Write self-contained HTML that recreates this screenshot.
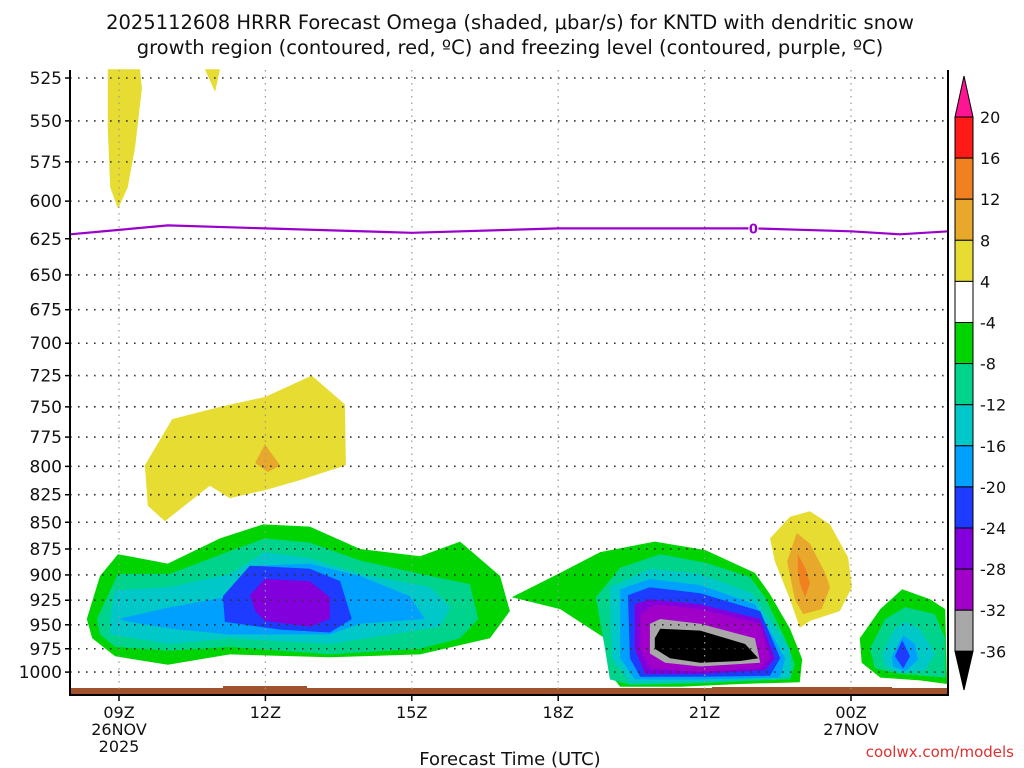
<!DOCTYPE html>
<html><head><meta charset="utf-8"><style>
html,body{margin:0;padding:0;background:#fff;width:1024px;height:768px;overflow:hidden}
svg{font-family:"DejaVu Sans","Liberation Sans",sans-serif}
</style></head><body>
<svg id="chart" width="1024" height="768" viewBox="0 0 1024 768">
<text x="510" y="29" text-anchor="middle" font-size="19.5" fill="#111">2025112608 HRRR Forecast Omega (shaded, μbar/s) for KNTD with dendritic snow</text>
<text x="510" y="54" text-anchor="middle" font-size="19.5" fill="#111">growth region (contoured, red, ºC) and freezing level (contoured, purple, ºC)</text>
<g id="fills"></g>
<g id="grid"></g>
<g id="frz"></g>
<g id="axes"></g>
<g id="cbar"></g>
<text x="510" y="765" text-anchor="middle" font-size="18" fill="#111">Forecast Time (UTC)</text>
<text x="1014" y="757" text-anchor="end" font-size="15" fill="#e03030">coolwx.com/models</text>
</svg>
<script>
const pressureTicks=[525,550,575,600,625,650,675,700,725,750,775,800,825,850,875,900,925,950,975,1000];
const timeTicks=[0,3,6,9,12,15];
const timeLabels=[["09Z","26NOV","2025"],["12Z"],["15Z"],["18Z"],["21Z"],["00Z","27NOV"]];
const cbarLevels=[20,16,12,8,4,-4,-8,-12,-16,-20,-24,-28,-32,-36];
const cbarColors=["#ff1a1a","#f08020","#e8a82c","#e6dc32","#ffffff","#00d400","#00d48c","#00c8c8","#00a0ff","#1e3cff","#8200dc","#a000c8","#a8a8a8"];
const freezeHours=[-1,0,1,3,6,9,12,13,15,16,17];
const freezeP=[622,619,616,618,621,618,618,618,620,622,620];
// contour polygons: [hour since 09Z, hPa]
const yellowTop=[[-0.23,520],[0.43,520],[0.47,531],[0.33,566],[0.18,591],[-0.02,605],[-0.18,591],[-0.23,555]];
const yellowTiny=[[1.76,520],[2.07,520],[1.97,533]];
const yellowMid=[[0.53,799],[1.09,760],[2.07,750],[2.99,742],[3.95,725],[4.63,748],[4.65,799],[3.71,812],[2.99,821],[2.27,828],[1.86,817],[0.94,849],[0.59,835]];
const orangeMid=[[2.79,797],[2.99,781],[3.3,799],[3.05,805]];
const leftGreen=[[-0.66,944],[-0.39,901],[-0.02,880],[1.0,889],[2.07,865],[2.95,852],[3.91,854],[4.94,875],[6.17,882],[6.99,868],[7.81,901],[8.01,936],[7.6,964],[6.17,981],[4.32,984],[2.27,981],[1.0,992],[-0.08,983],[-0.55,964]];
const leftTeal=[[-0.45,944],[-0.02,899],[1.04,899],[2.27,877],[2.99,865],[3.91,869],[4.94,886],[6.17,899],[7.19,909],[7.36,944],[6.99,964],[6.17,975],[4.32,981],[2.27,973],[1.04,977],[-0.08,973],[-0.39,960]];
const leftCyan=[[-0.18,944],[-0.08,915],[1.04,912],[2.27,899],[2.99,878],[3.91,884],[4.94,899],[6.38,912],[6.79,932],[6.58,952],[4.32,970],[2.27,964],[1.04,970],[-0.18,960]];
const leftLBlue=[[-0.02,944],[1.04,932],[2.27,921],[2.79,891],[3.91,889],[4.94,901],[5.96,921],[6.27,944],[4.94,949],[4.32,960],[2.27,960],[1.04,954],[0.12,946]];
const leftBlue=[[2.13,921],[2.68,891],[3.91,894],[4.53,906],[4.77,944],[4.32,958],[3.3,955],[2.17,947]];
const leftPurple=[[2.68,920],[2.99,904],[3.91,906],[4.32,922],[4.32,944],[3.91,952],[2.99,946],[2.79,936]];
const rGreen=[[8.05,922],[9.04,898],[9.86,878],[10.98,868],[12.01,876],[13.03,898],[13.34,919],[13.75,954],[14.0,986],[13.95,1011],[12.73,1013],[11.5,1016],[10.27,1016],[10.06,1002],[9.96,964],[9.04,934]];
const rTeal=[[9.77,922],[10.27,893],[11.09,880],[12.01,888],[12.93,902],[13.24,922],[13.65,964],[13.85,992],[13.75,1008],[11.91,1012],[10.48,1014],[10.06,1008],[9.96,975]];
const rCyan=[[10.06,912],[10.88,894],[11.91,899],[12.97,918],[13.75,975],[13.75,1006],[11.91,1011],[10.47,1012],[10.1,985]];
const rLBlue=[[10.27,914],[10.88,904],[11.91,910],[13.03,929],[13.65,985],[13.55,1006],[11.91,1008],[10.57,1008],[10.27,985]];
const rBlue=[[10.43,920],[10.88,912],[11.91,918],[13.14,936],[13.55,985],[13.34,1004],[11.91,1005],[10.68,1005],[10.47,985]];
const rPurple=[[10.57,929],[10.88,924],[11.91,929],[13.14,944],[13.44,985],[13.24,998],[11.91,1002],[10.78,1002],[10.57,975]];
const rViolet=[[10.68,939],[10.98,929],[11.91,934],[13.14,949],[13.34,985],[13.14,996],[11.91,1000],[10.88,996],[10.68,975]];
const rGray=[[10.88,949],[11.09,944],[11.91,949],[13.03,964],[13.14,990],[11.91,994],[11.19,990],[10.88,980]];
const rBlack=[[10.98,964],[11.09,954],[11.91,956],[12.83,970],[13.1,985],[12.73,988],[11.91,990],[11.29,985],[10.98,975]];
const yRight=[[13.34,865],[13.75,845],[14.16,840],[14.57,852],[14.94,883],[15.02,912],[14.77,936],[14.16,946],[13.95,953],[13.75,924],[13.44,887]];
const gRight=[[13.69,887],[13.89,860],[14.16,870],[14.47,898],[14.57,912],[14.4,934],[14.02,939],[13.85,924]];
const oRight=[[13.91,880],[14.08,895],[14.16,908],[14.06,922],[13.95,908],[13.91,895]];
const sGreen=[[15.18,964],[15.6,934],[16.05,914],[16.62,924],[16.93,934],[16.97,1013],[16.41,1009],[15.6,1006],[15.22,990]];
const sTeal=[[15.39,975],[15.7,944],[16.11,932],[16.72,939],[16.93,964],[16.93,1006],[16.0,1002],[15.49,996]];
const sCyan=[[15.64,980],[15.9,954],[16.11,947],[16.41,954],[16.72,980],[16.52,998],[16.0,1001],[15.7,994]];
const sLBlue=[[15.84,983],[16.07,961],[16.31,970],[16.37,987],[16.11,999],[15.86,994]];
const sBlue=[[16.05,966],[16.21,983],[16.07,996],[15.9,983]];

const X0=70,X1=948,Y0=70,Y1=695;
const xs=h=>119+h*48.8;
const ys=p=>78+922*(Math.log(p)-Math.log(525));
const NS="http://www.w3.org/2000/svg";
function mk(tag,attrs,parent){const e=document.createElementNS(NS,tag);for(const k in attrs)e.setAttribute(k,attrs[k]);parent.appendChild(e);return e;}
const fills=document.getElementById('fills');
const layers=[
 [yellowTop,"#e6dc32","yellow-region-top"],[yellowTiny,"#e6dc32","yellow-region-tiny"],
 [yellowMid,"#e6dc32","yellow-region-mid"],[orangeMid,"#e8a82c","gold-region-mid"],
 [leftGreen,"#00d400","green-region-left"],[leftTeal,"#00d48c","teal-region-left"],[leftCyan,"#00c8c8","cyan-region-left"],[leftLBlue,"#00a0ff","lightblue-region-left"],[leftBlue,"#1e3cff","blue-region-left"],[leftPurple,"#8200dc","purple-region-left"],
 [rGreen,"#00d400","green-region-right"],[rTeal,"#00d48c","teal-region-right"],[rCyan,"#00c8c8","cyan-region-right"],[rLBlue,"#00a0ff","lightblue-region-right"],[rBlue,"#1e3cff","blue-region-right"],[rPurple,"#8200dc","purple-region-right"],[rViolet,"#a000c8","violet-region-right"],[rGray,"#a8a8a8","gray-region-right"],[rBlack,"#000000","black-region-right"],
 [yRight,"#e6dc32","yellow-region-right"],[gRight,"#e8a82c","gold-region-right"],[oRight,"#f08020","orange-region-right"],
 [sGreen,"#00d400","green-region-small"],[sTeal,"#00d48c","teal-region-small"],[sCyan,"#00c8c8","cyan-region-small"],[sLBlue,"#00a0ff","lightblue-region-small"],[sBlue,"#1e3cff","blue-region-small"]
];
for(const [pts,col,name] of layers){
 const el=mk('polygon',{points:pts.map(p=>xs(p[0]).toFixed(1)+","+ys(p[1]).toFixed(1)).join(" "),fill:col},fills);
 
 
}
// ground
const g1=mk('rect',{x:X0,y:688,width:X1-X0,height:7,fill:"#a0522d"},fills);


const g2=mk('rect',{x:223,y:686,width:84,height:3,fill:"#a0522d"},fills);


const g3=mk('rect',{x:712,y:687,width:180,height:2,fill:"#a0522d"},fills);


// grid
const grid=document.getElementById('grid');
for(const p of pressureTicks){
 const l=mk('line',{x1:X0,x2:X1,y1:ys(p),y2:ys(p),stroke:"#333","stroke-width":1.6,"stroke-dasharray":"1.6 6.4"},grid);
 
 
}
for(const h of timeTicks){
 const l=mk('line',{x1:xs(h),x2:xs(h),y1:Y0,y2:Y1,stroke:"#999","stroke-width":1.2,"stroke-dasharray":"1.5 5"},grid);
 
 
}
// freezing
const frz=document.getElementById('frz');
const fp=mk('polyline',{points:freezeHours.map((h,i)=>xs(h).toFixed(1)+","+ys(freezeP[i]).toFixed(1)).join(" "),fill:"none",stroke:"#9900cc","stroke-width":2.2},frz);


const lr=mk('rect',{x:xs(13)-5,y:ys(618)-7,width:10,height:14,fill:"#fff"},frz);


const lt=mk('text',{x:xs(13),y:ys(618)+5,"text-anchor":"middle","font-size":13,"font-weight":"bold",fill:"#9900cc"},frz);
lt.textContent="0";


// axes
const ax=document.getElementById('axes');
const fr=mk('path',{d:`M${X0} ${Y0} V${Y1} H${X1} V${Y0}`,fill:"none",stroke:"#000","stroke-width":2},ax);


for(const p of pressureTicks){
 const t=mk('text',{x:62,y:ys(p)+6,"text-anchor":"end","font-size":17,fill:"#111"},ax);
 t.textContent=p;
 
 
 const tk=mk('line',{x1:X0-5,x2:X0,y1:ys(p),y2:ys(p),stroke:"#000","stroke-width":1.5},ax);
 
 
}
timeTicks.forEach((h,i)=>{
 const tk=mk('line',{x1:xs(h),x2:xs(h),y1:Y1,y2:Y1+6,stroke:"#000","stroke-width":1.5},ax);
 
 
 timeLabels[i].forEach((s,j)=>{
  const t=mk('text',{x:xs(h),y:718+j*17,"text-anchor":"middle","font-size":16,fill:"#111"},ax);
  t.textContent=s;
  
  
 });
});
// colorbar
const cb=document.getElementById('cbar');
const CX=955,CW=18,cy=v=>117+(20-v)/4*41.1-(v<0?41.1:0);
const cbTop=mk('polygon',{points:`${CX},${cy(20)} ${CX+CW/2},76 ${CX+CW},${cy(20)}`,fill:"#ff1493",stroke:"#000"},cb);


for(let i=0;i<cbarColors.length;i++){
 const y=cy(cbarLevels[i]),h=cy(cbarLevels[i+1])-y;
 const r=mk('rect',{x:CX,y:y,width:CW,height:h,fill:cbarColors[i],stroke:"#000","stroke-width":1},cb);
 
 
}
const cbBot=mk('polygon',{points:`${CX},${cy(-36)} ${CX+CW/2},690 ${CX+CW},${cy(-36)}`,fill:"#000",stroke:"#000"},cb);


for(const v of cbarLevels){
 const t=mk('text',{x:980,y:cy(v)+6,"font-size":16,fill:"#111"},cb);
 t.textContent=v;
 
 
}
</script>
</body></html>
